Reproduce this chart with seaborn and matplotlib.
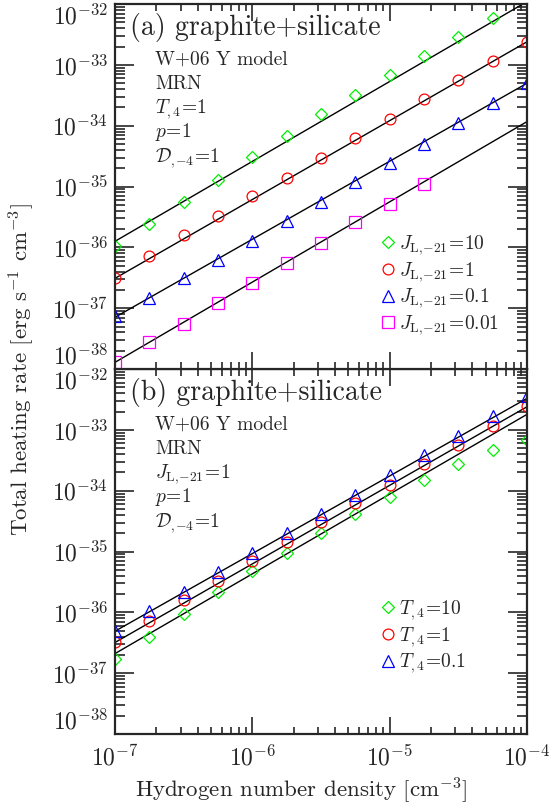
import numpy as np
import pandas as pd
import matplotlib
matplotlib.use("Agg")
import matplotlib.pyplot as plt
import seaborn as sns

# ---------------- data ----------------
nH = [1e-7, 1.78e-7, 3.16e-7, 5.62e-7, 1e-6, 1.78e-6, 3.16e-6, 5.62e-6,
      1e-5, 1.78e-5, 3.16e-5, 5.62e-5, 1e-4]

# panel (a): varying J_L,-21
a_J10 = [1.05e-36, 2.4e-36, 5.5e-36, 1.29e-35, 3.1e-35, 6.9e-35, 1.58e-34,
         3.2e-34, 6.9e-34, 1.41e-33, 2.9e-33, 6.0e-33]
a_J1 = [3.2e-37, 7.1e-37, 1.58e-36, 3.3e-36, 7.1e-36, 1.41e-35, 3.0e-35,
        6.3e-35, 1.29e-34, 2.75e-34, 5.6e-34, 1.17e-33, 2.4e-33]
a_J01 = [7.4e-38, 1.5e-37, 3.1e-37, 6.3e-37, 1.29e-36, 2.7e-36, 5.5e-36,
         1.17e-35, 2.45e-35, 5.0e-35, 1.12e-34, 2.4e-34, 5.0e-34]
a_J001 = [1.29e-38, 2.75e-38, 5.6e-38, 1.2e-37, 2.57e-37, 5.5e-37, 1.17e-36,
          2.57e-36, 5.2e-36, 1.12e-35]

# panel (b): varying T_4
b_T10 = [1.74e-37, 4.0e-37, 9.5e-37, 2.2e-36, 4.7e-36, 9.5e-36, 2.0e-35,
         4.1e-35, 7.9e-35, 1.5e-34, 2.75e-34, 4.7e-34, 6.9e-34]
b_T1 = [3.2e-37, 7.1e-37, 1.58e-36, 3.3e-36, 6.9e-36, 1.45e-35, 3.1e-35,
        6.3e-35, 1.26e-34, 2.7e-34, 5.6e-34, 1.17e-33, 2.45e-33]
b_T01 = [4.9e-37, 1.05e-36, 2.2e-36, 4.6e-36, 9.5e-36, 2.0e-35, 4.2e-35,
         8.5e-35, 1.8e-34, 3.9e-34, 7.9e-34, 1.7e-33, 3.6e-33]

# power-law fit lines: values at n_H = 1e-7 and 1e-4
fit_x = [1e-7, 1e-4]
a_fit_J10 = [1.26e-36, 1.1e-32]
a_fit_J1 = [3.1e-37, 2.4e-33]
a_fit_J01 = [7.1e-38, 5.0e-34]
a_fit_J001 = [1.29e-38, 1.17e-34]
b_fit_T01 = [4.9e-37, 3.3e-33]
b_fit_T1 = [3.2e-37, 2.4e-33]
b_fit_T10 = [2.1e-37, 1.8e-33]

JSUB = r'J_{\rm L,\!{-21}}'
a_labels = [rf'${JSUB}\!=\!10$', rf'${JSUB}\!=\!1$',
            rf'${JSUB}\!=\!0.1$', rf'${JSUB}\!=\!0.01$']
b_labels = [r'$T_{,4}\!=\!10$', r'$T_{,4}\!=\!1$', r'$T_{,4}\!=\!0.1$']

xticks = [1e-7, 1e-6, 1e-5, 1e-4]
xticklabels = [r'$10^{-7}$', r'$10^{-6}$', r'$10^{-5}$', r'$10^{-4}$']
yticks = [1e-38, 1e-37, 1e-36, 1e-35, 1e-34, 1e-33, 1e-32]
yticklabels = [r'$10^{-38}$', r'$10^{-37}$', r'$10^{-36}$', r'$10^{-35}$',
               r'$10^{-34}$', r'$10^{-33}$', r'$10^{-32}$']

# ---------------- style ----------------
sns.set_style("ticks")
plt.rcParams['font.family'] = ['cmr10', 'DejaVu Serif']
plt.rcParams['mathtext.fontset'] = 'cm'
plt.rcParams['axes.unicode_minus'] = False
plt.rcParams['axes.linewidth'] = 1.6

GREEN, RED, BLUE, MAG = '#00ee00', '#ff0000', '#0000ff', '#ff00ff'

fig = plt.figure(figsize=(5.54, 8.06), dpi=100)
L, W = 115 / 554, 412 / 554
H = 0.4528
axb = fig.add_axes([L, 0.0893, W, H])
axa = fig.add_axes([L, 0.0893 + H, W, H], sharex=axb)


def markers(ax, y, marker, color, ms, label):
    sns.lineplot(x=nH[:len(y)], y=y, ax=ax, marker=marker, linestyle='',
                 mfc='none', mec=color, mew=0.9, ms=ms, label=label,
                 legend=False, estimator=None)


def fitline(ax, y):
    sns.lineplot(x=fit_x, y=y, ax=ax, color='black', lw=1.0,
                 legend=False, estimator=None)


for ax in (axa, axb):
    ax.set_xscale('log')
    ax.set_yscale('log')

# panel (a)
for f in (a_fit_J10, a_fit_J1, a_fit_J01, a_fit_J001):
    fitline(axa, f)
markers(axa, a_J10, 'D', GREEN, 6.0, a_labels[0])
markers(axa, a_J1, 'o', RED, 7.8, a_labels[1])
markers(axa, a_J01, '^', BLUE, 8.5, a_labels[2])
markers(axa, a_J001, 's', MAG, 8.3, a_labels[3])

# panel (b)
for f in (b_fit_T01, b_fit_T1, b_fit_T10):
    fitline(axb, f)
markers(axb, b_T10, 'D', GREEN, 6.0, b_labels[0])
markers(axb, b_T1, 'o', RED, 7.8, b_labels[1])
markers(axb, b_T01, '^', BLUE, 8.5, b_labels[2])

for ax in (axa, axb):
    ax.set_xlim(1e-7, 1e-4)
    ax.set_ylim(1e-38, 1e-32)
    ax.set_yticks(yticks, yticklabels)
    ax.tick_params(which='both', direction='in', top=True, right=True,
                   width=1.2)
    ax.tick_params(axis='y', which='major', length=14, labelsize=17, pad=5)
    ax.tick_params(axis='y', which='minor', length=7)
    ax.tick_params(axis='x', which='major', length=12, labelsize=17, pad=8)
    ax.tick_params(axis='x', which='minor', length=5)
    ax.set_xlabel('')
    ax.set_ylabel('')

axb.set_xticks(xticks, xticklabels)
axa.tick_params(axis='x', labelbottom=False)

# shift edge tick labels inside the axis range like the original
ta = axa.yaxis.get_major_ticks()
ta[0].label1.set_va('bottom')
ta[-1].label1.set_va('top')
tb = axb.yaxis.get_major_ticks()
tb[0].label1.set_va('bottom')
tb[-1].label1.set_va('top')

# annotations
for ax, tag, third in ((axa, '(a)', r'$T_{,4}\!=\!1$'),
                       (axb, '(b)', rf'${JSUB}\!=\!1$')):
    ax.text(0.036, 0.915, tag + ' graphite+silicate', transform=ax.transAxes,
            fontsize=20, va='baseline')
    lines = ['W+06 Y model', 'MRN', third, r'$p\!=\!1$',
             r'$\mathcal{D}_{,\!{-4}}\!=\!1$']
    ys = [0.833, 0.767, 0.702, 0.636, 0.568]
    for t, yy in zip(lines, ys):
        ax.text(0.097, yy, t, transform=ax.transAxes, fontsize=14,
                va='baseline')

ha, la = axa.get_legend_handles_labels()
axa.legend(ha, la, loc='upper left', bbox_to_anchor=(0.645, 0.372),
           frameon=False, fontsize=14, handlelength=0.7,
           handletextpad=0.25, labelspacing=0.15, borderpad=0,
           borderaxespad=0)
hb, lb = axb.get_legend_handles_labels()
axb.legend(hb, lb, loc='upper left', bbox_to_anchor=(0.645, 0.372),
           frameon=False, fontsize=14, handlelength=0.7,
           handletextpad=0.25, labelspacing=0.15, borderpad=0,
           borderaxespad=0)

fig.text(0.544, 0.010, r'Hydrogen number density [cm$^{-3}$]',
         fontsize=16.5, ha='center', va='baseline')
fig.text(0.040, 0.542, r'Total heating rate [erg s$^{-1}$ cm$^{-3}$]',
         fontsize=16.5, ha='center', va='center', rotation=90)

fig.savefig('out.png', dpi=100)
